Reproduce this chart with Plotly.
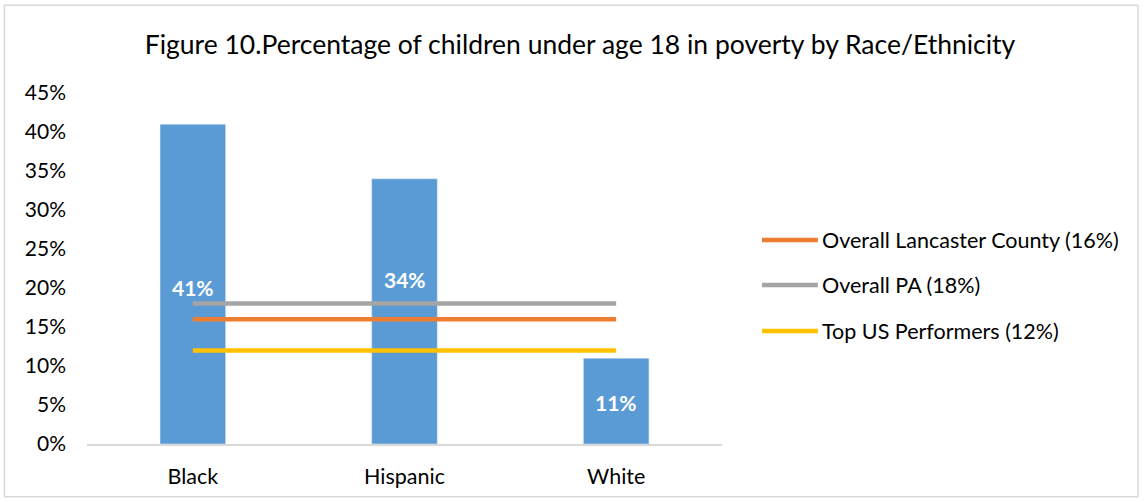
import plotly.graph_objects as go

categories = ["Black", "Hispanic", "White"]
poverty_pct = [41, 34, 11]
bar_labels = ["41%", "34%", "11%"]

ref_names = ["Overall Lancaster County (16%)", "Overall PA (18%)", "Top US Performers (12%)"]
ref_values = [16, 18, 12]
ref_colors = ["#ED7D31", "#A5A5A5", "#FFC000"]

tick_vals = [0, 5, 10, 15, 20, 25, 30, 35, 40, 45]
tick_text = ["0%", "5%", "10%", "15%", "20%", "25%", "30%", "35%", "40%", "45%"]

title_text = "Figure 10.Percentage of children under age 18 in poverty by Race/Ethnicity"

FONT = "Lato"

fig = go.Figure()
fig.add_trace(go.Bar(x=categories, y=poverty_pct, marker_color="#5B9BD5",
                     width=0.31, showlegend=False, hoverinfo="skip"))

for i, (name, val, col) in enumerate(zip(ref_names, ref_values, ref_colors)):
    fig.add_trace(go.Scatter(x=categories, y=[val] * len(categories), mode="lines",
                             name=name, line=dict(color=col, width=4.5),
                             showlegend=False))

# data labels
label_frac = [0.49, 0.62, 0.48]
for c, v, t, f in zip(categories, poverty_pct, bar_labels, label_frac):
    fig.add_annotation(x=c, y=v * f, text=f"<b>{t}</b>", showarrow=False,
                       font=dict(family=FONT, size=21, color="white"))

# manual legend (Excel-style long line keys)
legend_y = [0.581, 0.453, 0.322]
shapes = [dict(type="rect", xref="paper", yref="paper",
               x0=-0.13, x1=1.655, y0=-0.15, y1=1.25,
               line=dict(color="#D9D9D9", width=1.5))]
for name, col, ly in zip(ref_names, ref_colors, legend_y):
    shapes.append(dict(type="line", xref="paper", yref="paper",
                       x0=1.063, x1=1.151, y0=ly, y1=ly,
                       line=dict(color=col, width=4.5)))
    fig.add_annotation(xref="paper", yref="paper", x=1.154, y=ly, xanchor="left",
                       yanchor="middle", text=name, showarrow=False,
                       font=dict(family=FONT, size=21.5, color="#000000"))

fig.update_layout(
    width=1144, height=502,
    margin=dict(l=87, r=422, t=93, b=58, autoexpand=False),
    paper_bgcolor="white", plot_bgcolor="white",
    title=dict(text=title_text, x=0.507, xanchor="center", y=0.91, yanchor="middle",
               font=dict(family=FONT, size=26.5, color="#000000")),
    font=dict(family=FONT, size=21, color="#000000"),
    xaxis=dict(showgrid=False, showline=True, linecolor="#D9D9D9", linewidth=1.5,
               ticks="", tickfont=dict(size=21.5), ticklabelstandoff=12,
               automargin=False),
    yaxis=dict(range=[0, 45], tickvals=tick_vals, ticktext=tick_text, showgrid=False,
               zeroline=False, showline=False, ticks="", ticklabelstandoff=20,
               tickfont=dict(size=21), automargin=False),
    showlegend=False,
    bargap=0.69,
    shapes=shapes,
)

fig.write_html("out.html")
